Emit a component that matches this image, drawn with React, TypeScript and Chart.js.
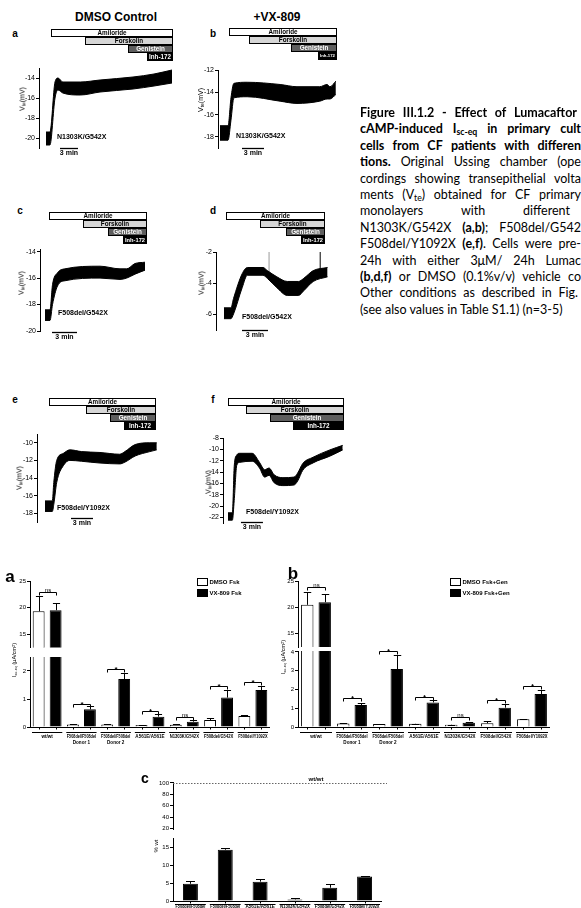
import React, { useEffect, useRef } from 'react';
import { Chart, registerables } from 'chart.js';

Chart.register(...registerables);

const FONT = '"Liberation Sans", Arial, Helvetica, sans-serif';
const CAPTION_FONT = 'Lato, "Open Sans", sans-serif';

// ================= Ussing chamber recordings =================
// time in minutes; upper / lower envelope of the V_te band in mV
const drugNames = ['Amiloride', 'Forskolin', 'Genistein', 'Inh-172'];
const scaleBarMinutes = 3;
const genotypes = ['N1303K/G542X', 'N1303K/G542X', 'F508del/G542X', 'F508del/G542X', 'F508del/Y1092X', 'F508del/Y1092X'];

const aTime = [0, 0.65, 1.5, 2.0, 2.8, 5.7, 9.0, 14.5, 18.0, 21.0];
const aUpper = [-19.4, -19.4, -14.4, -14.0, -14.4, -14.4, -14.2, -13.9, -13.6, -13.2];
const aLower = [-20.7, -20.7, -16.0, -15.2, -15.5, -15.7, -15.4, -15.1, -14.8, -14.5];
const aDrugStart = [0.83, 6.5, 13.67, 16.83];
const aDrugEnd = 21;
const aTicks = [-20, -18, -16, -14];

const bTime = [0, 1.1, 1.5, 1.9, 3.7, 8.2, 10.5, 13.6, 14.6, 15.0, 15.8];
const bUpper = [-17.0, -17.0, -14.5, -13.2, -13.1, -13.3, -13.5, -13.5, -13.3, -13.5, -13.0];
const bLower = [-18.3, -18.3, -16.5, -14.5, -14.4, -14.8, -15.0, -14.8, -14.6, -14.6, -14.2];
const bDrugStart = [1.23, 3.96, 9.69, 13.37];
const bDrugEnd = 15.82;
const bTicks = [-18, -16, -14, -12];

const cTime = [0, 0.6, 0.9, 1.5, 2.4, 6.6, 9.0, 9.8, 10.8, 12.0];
const cUpper = [-18.4, -18.4, -16.5, -15.6, -15.3, -15.1, -15.3, -15.3, -14.9, -14.8];
const cLower = [-19.2, -19.2, -18.0, -16.6, -16.2, -16.0, -16.1, -16.0, -15.7, -15.4];
const cDrugStart = [0.48, 4.56, 7.56, 9.36];
const cDrugEnd = 12.12;
const cTicks = [-20, -18, -16, -14];

const dTime = [0, 0.8, 1.1, 2.1, 2.7, 4.5, 5.0, 6.1, 7.3, 8.6, 9.2, 10.3, 11.95];
const dUpper = [-5.6, -5.6, -5.0, -3.4, -3.0, -3.0, -3.2, -3.6, -3.9, -3.9, -3.7, -3.2, -3.0];
const dLower = [-6.3, -6.3, -6.0, -4.3, -3.5, -3.5, -3.7, -4.3, -4.8, -4.8, -4.5, -3.9, -3.6];
const dSpikeTime = [5.2, 11.1];
const dSpikeBase = [-3.3, -3.1];
const dSpikeTop = [-2.0, -2.0];
const dDrugStart = [0.23, 4.15, 7.15, 8.88];
const dDrugEnd = 11.53;
const dTicks = [-6, -4, -2];

const eTime = [0, 1.0, 1.2, 1.6, 2.5, 3.4, 5.0, 7.5, 10.2, 10.9, 12.3, 14.3, 15.25];
const eUpper = [-16.6, -16.6, -14.5, -12.0, -11.2, -10.8, -11.0, -11.1, -11.3, -11.0, -10.2, -10.0, -10.0];
const eLower = [-17.8, -17.8, -17.0, -14.5, -12.6, -12.0, -12.1, -12.3, -12.4, -12.2, -11.5, -11.0, -10.8];
const eDrugStart = [0.55, 5.59, 8.87, 10.78];
const eDrugEnd = 15.0;
const eTicks = [-18, -16, -14, -12, -10];

const fTime = [0, 0.6, 0.85, 1.2, 1.6, 3.3, 4.3, 5.0, 5.6, 6.3, 7.5, 9.0, 9.5, 10.2, 11.6, 13.9, 15.65];
const fUpper = [-21.2, -21.2, -13.0, -11.0, -10.7, -10.7, -12.3, -13.6, -13.3, -14.5, -15.0, -14.9, -14.2, -12.5, -11.4, -10.1, -9.3];
const fLower = [-22.5, -22.5, -19.0, -12.8, -12.3, -12.1, -13.3, -14.9, -14.6, -15.9, -16.4, -16.3, -15.6, -13.7, -12.4, -11.2, -10.1];
const fDrugStart = [0, 2.46, 5.73, 8.87];
const fDrugEnd = 15.69;
const fTicks = [-22, -20, -18, -16, -14, -12, -10, -8];

// ================= Bar charts =================
const barGroups = [['wt/wt'], ['F508del/F508del', 'Donor 1'], ['F508del/F508del', 'Donor 2'], ['A561E/A561E'], ['N1303K/G542X'], ['F508del/G542X'], ['F508del/Y1092X']];

const fskLabels = ['DMSO Fsk', 'VX-809 Fsk'];
const fskDmso = [19.3, 0.09, 0.09, 0.07, 0.08, 0.25, 0.39];
const fskDmsoSem = [2.9, 0.01, 0.01, 0.01, 0.01, 0.07, 0.05];
const fskVx = [19.5, 0.63, 1.71, 0.37, 0.19, 1.05, 1.32];
const fskVxSem = [1.3, 0.12, 0.21, 0.08, 0.06, 0.27, 0.14];
const fskSig = ['ns', '*', '*', '*', 'ns', '*', '*'];
const fskSigY = [23.0, 0.82, 2.06, 0.58, 0.37, 1.46, 1.62];
const fskUpperTicks = [15, 20, 25];
const fskLowerTicks = [0, 1, 2];

const genLabels = ['DMSO Fsk+Gen', 'VX-809 Fsk+Gen'];
const genDmso = [20.45, 0.18, 0.16, 0.17, 0.12, 0.2, 0.41];
const genDmsoSem = [2.45, 0.02, 0.02, 0.01, 0.01, 0.12, 0.02];
const genVx = [20.95, 1.17, 3.09, 1.31, 0.22, 1.03, 1.76];
const genVxSem = [1.55, 0.12, 0.73, 0.12, 0.05, 0.19, 0.21];
const genSig = ['ns', '*', '*', '*', 'ns', '*', '*'];
const genSigY = [23.8, 1.52, 4.05, 1.61, 0.51, 1.43, 2.16];
const genUpperTicks = [15, 20, 25];
const genLowerTicks = [0, 1, 2, 3, 4];

const pctGroups = [['F508del/F508del', 'Donor 1'], ['F508del/F508del', 'Donor 2'], ['A561E/A561E'], ['N1303K/G542X'], ['F508del/G542X'], ['F508del/Y1092X']];
const pctWt = [4.8, 14.3, 5.4, 0.45, 3.7, 6.8];
const pctWtSem = [0.8, 0.4, 0.6, 0.25, 1.0, 0.2];
const wtReference = 100;
const pctUpperTicks = [20, 40, 60, 80, 100];
const pctLowerTicks = [0, 5, 10, 15];

// ================= Layout (page pixels) =================
const traceLayouts = [
  { box: { left: 0, top: 20, width: 185, height: 145 }, axisX: 39, plotTop: 68, plotBottom: 148, plotRight: 172, tMin: -1.17, tMax: 21, yMin: -21, yMax: -13, boxTop: 29, barT: 2.33, barY: 148, labelX: 57, labelY: 137, titleX: 22, titleY: 99 },
  { box: { left: 185, top: 20, width: 165, height: 145 }, axisX: 218, plotTop: 70, plotBottom: 148, plotRight: 336, tMin: -0.27, tMax: 15.82, yMin: -19, yMax: -12, boxTop: 28, barT: 3.0, barY: 148, labelX: 236, labelY: 136, titleX: 200, titleY: 100 },
  { box: { left: 0, top: 205, width: 185, height: 145 }, axisX: 40, plotTop: 249, plotBottom: 331, plotRight: 146, tMin: -0.6, tMax: 12.12, yMin: -20, yMax: -13.8, boxTop: 212, barT: 0.84, barY: 332, labelX: 58, labelY: 313, titleX: 21, titleY: 283 },
  { box: { left: 185, top: 205, width: 165, height: 145 }, axisX: 216, plotTop: 252, plotBottom: 330, plotRight: 328, tMin: -0.92, tMax: 12.0, yMin: -7.03, yMax: -2, boxTop: 212, barT: 2.08, barY: 330, labelX: 242, labelY: 317, titleX: 201, titleY: 283 },
  { box: { left: 0, top: 390, width: 185, height: 145 }, axisX: 37, plotTop: 434, plotBottom: 522, plotRight: 157, tMin: -1.09, tMax: 15.28, yMin: -19, yMax: -9, boxTop: 398, barT: 3.55, barY: 518, labelX: 57, labelY: 508, titleX: 19, titleY: 478 },
  { box: { left: 185, top: 390, width: 165, height: 145 }, axisX: 223, plotTop: 438, plotBottom: 523, plotRight: 343, tMin: -0.68, tMax: 15.69, yMin: -23, yMax: -8, boxTop: 398, barT: 1.77, barY: 522, labelX: 246, labelY: 512, titleX: 208, titleY: 482 },
];

const traceData = [
  { time: aTime, upper: aUpper, lower: aLower, drugStart: aDrugStart, drugEnd: aDrugEnd, ticks: aTicks, spikes: null as any },
  { time: bTime, upper: bUpper, lower: bLower, drugStart: bDrugStart, drugEnd: bDrugEnd, ticks: bTicks, spikes: null as any },
  { time: cTime, upper: cUpper, lower: cLower, drugStart: cDrugStart, drugEnd: cDrugEnd, ticks: cTicks, spikes: null as any },
  { time: dTime, upper: dUpper, lower: dLower, drugStart: dDrugStart, drugEnd: dDrugEnd, ticks: dTicks, spikes: { t: dSpikeTime, base: dSpikeBase, top: dSpikeTop } },
  { time: eTime, upper: eUpper, lower: eLower, drugStart: eDrugStart, drugEnd: eDrugEnd, ticks: eTicks, spikes: null as any },
  { time: fTime, upper: fUpper, lower: fLower, drugStart: fDrugStart, drugEnd: fDrugEnd, ticks: fTicks, spikes: null as any },
];

const boxFills = ['#ffffff', '#d6d6d6', '#5e5e5e', '#000000'];
const boxTexts = ['#000000', '#000000', '#ffffff', '#ffffff'];

function fitText(ctx: any, text: string, x: number, y: number, maxW: number) {
  const w = ctx.measureText(text).width;
  if (w <= maxW) {
    ctx.fillText(text, x, y);
    return;
  }
  ctx.save();
  ctx.translate(x, y);
  ctx.scale(maxW / w, 1);
  ctx.fillText(text, 0, 0);
  ctx.restore();
}

function yAxis(min: number, max: number, ticks: number[], width: number, fontSize: number) {
  return {
    type: 'linear',
    min,
    max,
    afterFit: (s: any) => { s.width = width; },
    afterBuildTicks: (s: any) => { s.ticks = ticks.map((v) => ({ value: v })); },
    ticks: { font: { size: fontSize, family: FONT }, color: '#000', padding: 1, autoSkip: false },
    grid: { display: true, drawOnChartArea: false, drawTicks: true, tickLength: 3, color: '#000', lineWidth: 1 },
    border: { display: true, color: '#000', width: 1 },
  };
}

function traceConfig(idx: number) {
  const L = traceLayouts[idx];
  const D = traceData[idx];
  const yW = 18;
  const ox = L.box.left, oy = L.box.top;
  const datasets: any[] = [
    { data: D.time.map((t, i) => ({ x: t, y: D.upper[i] })), borderColor: '#000', borderWidth: 1, pointRadius: 0, fill: false, cubicInterpolationMode: 'monotone' },
    { data: D.time.map((t, i) => ({ x: t, y: D.lower[i] })), borderColor: '#000', borderWidth: 1, pointRadius: 0, backgroundColor: '#000', fill: '-1', cubicInterpolationMode: 'monotone' },
  ];
  if (D.spikes) {
    D.spikes.t.forEach((t: number, i: number) => {
      datasets.push({ data: [{ x: t, y: D.spikes.base[i] }, { x: t, y: D.spikes.top[i] }], borderColor: i === 0 ? '#9a9a9a' : '#000', borderWidth: 1, pointRadius: 0, fill: false });
    });
  }
  const plugin = {
    id: 'traceDeco' + idx,
    afterDraw(chart: any) {
      const ctx = chart.ctx;
      const xs = chart.scales.x;
      ctx.save();
      D.drugStart.forEach((t0: number, i: number) => {
        const x1 = Math.round(xs.getPixelForValue(t0)) + 0.5;
        const x2 = Math.round(xs.getPixelForValue(D.drugEnd)) + 0.5;
        const y1 = L.boxTop - oy + i * 8 + 0.5;
        ctx.fillStyle = boxFills[i];
        ctx.fillRect(x1, y1, x2 - x1, 7);
        ctx.strokeStyle = '#000';
        ctx.lineWidth = 1;
        ctx.strokeRect(x1, y1, x2 - x1, 7);
        let fs = 6.3;
        ctx.font = `bold ${fs}px ${FONT}`;
        const w = ctx.measureText(drugNames[i]).width;
        if (w > x2 - x1 - 3) {
          fs = (fs * (x2 - x1 - 3)) / w;
          ctx.font = `bold ${fs}px ${FONT}`;
        }
        ctx.fillStyle = boxTexts[i];
        ctx.textAlign = 'center';
        ctx.textBaseline = 'middle';
        ctx.fillText(drugNames[i], (x1 + x2) / 2, y1 + 3.8);
      });
      const bx1 = xs.getPixelForValue(L.barT);
      const bx2 = xs.getPixelForValue(L.barT + scaleBarMinutes);
      ctx.strokeStyle = '#000';
      ctx.lineWidth = 1.3;
      ctx.beginPath();
      ctx.moveTo(bx1, L.barY - oy + 0.5);
      ctx.lineTo(bx2, L.barY - oy + 0.5);
      ctx.stroke();
      ctx.fillStyle = '#000';
      ctx.font = `bold 7px ${FONT}`;
      ctx.textAlign = 'center';
      ctx.textBaseline = 'top';
      ctx.fillText(scaleBarMinutes + ' min', (bx1 + bx2) / 2, L.barY - oy + 2);
      ctx.textAlign = 'left';
      ctx.textBaseline = 'middle';
      ctx.font = `bold 7px ${FONT}`;
      ctx.fillText(genotypes[idx], L.labelX - ox, L.labelY - oy);
      ctx.restore();
    },
  };
  return {
    type: 'line',
    data: { datasets },
    options: {
      animation: false,
      responsive: false,
      events: [],
      layout: { padding: { left: L.axisX - ox - yW, right: ox + L.box.width - L.plotRight, top: L.plotTop - oy, bottom: oy + L.box.height - L.plotBottom } },
      plugins: { legend: { display: false }, tooltip: { enabled: false } },
      scales: {
        x: { type: 'linear', display: false, min: L.tMin, max: L.tMax },
        y: yAxis(L.yMin, L.yMax, D.ticks, yW, 7),
      },
    },
    plugins: [plugin],
  };
}

type BarSpec = {
  box: { left: number; top: number; width: number; height: number };
  plotLeft: number; plotRight: number; plotTop: number; plotBottom: number;
  yMin: number; yMax: number; ticks: number[]; yW: number;
  groups: string[][];
  series: { label: string; data: number[]; sem: number[]; fill: string }[];
  catPct: number; barPct: number;
  sig?: string[]; sigY?: number[];
  legend?: { x: number; y: number };
  groupLabels?: { underline: number; text: number };
  refLine?: { value: number; label: string; labelX: number };
};

function barConfig(S: BarSpec) {
  const ox = S.box.left, oy = S.box.top;
  const plugin = {
    id: 'barDeco',
    afterDatasetsDraw(chart: any) {
      const { ctx, chartArea: ca } = chart;
      const x = chart.scales.x, y = chart.scales.y;
      ctx.save();
      ctx.strokeStyle = '#000';
      ctx.fillStyle = '#000';
      ctx.lineWidth = 1;
      // error bars
      ctx.save();
      ctx.beginPath();
      ctx.rect(ca.left, ca.top - 0.5, ca.right - ca.left, ca.bottom - ca.top + 0.5);
      ctx.clip();
      S.series.forEach((s, di) => {
        chart.getDatasetMeta(di).data.forEach((el: any, i: number) => {
          const y0 = y.getPixelForValue(s.data[i]);
          const y1 = Math.round(y.getPixelForValue(s.data[i] + s.sem[i])) + 0.5;
          const cx = Math.round(el.x) + 0.5;
          const hw = Math.max(2.5, el.width * 0.3);
          ctx.beginPath();
          ctx.moveTo(cx, y0);
          ctx.lineTo(cx, y1);
          ctx.moveTo(cx - hw, y1);
          ctx.lineTo(cx + hw, y1);
          ctx.stroke();
        });
      });
      ctx.restore();
      // significance brackets
      if (S.sig && S.sigY) {
        const m0 = chart.getDatasetMeta(0).data, m1 = chart.getDatasetMeta(1).data;
        S.sig.forEach((lab, i) => {
          const v = S.sigY![i];
          if (v < S.yMin || v > S.yMax + (S.yMax - S.yMin) * 0.06) return;
          const x1 = Math.round(m0[i].x) + 0.5, x2 = Math.round(m1[i].x) + 0.5;
          const yy = Math.round(y.getPixelForValue(v)) + 0.5;
          ctx.beginPath();
          ctx.moveTo(x1, yy + 3);
          ctx.lineTo(x1, yy);
          ctx.lineTo(x2, yy);
          ctx.lineTo(x2, yy + 3);
          ctx.stroke();
          ctx.textAlign = 'center';
          ctx.textBaseline = 'alphabetic';
          if (lab === '*') {
            ctx.font = `bold 8px ${FONT}`;
            ctx.fillText(lab, (x1 + x2) / 2, yy + 2.5);
          } else {
            ctx.font = `6px ${FONT}`;
            ctx.fillText(lab, (x1 + x2) / 2, yy - 1);
          }
        });
      }
      // legend
      if (S.legend) {
        S.series.forEach((s, di) => {
          const lx = S.legend!.x - ox + 0.5, top = S.legend!.y - oy + di * 11 + 0.5;
          ctx.fillStyle = s.fill;
          ctx.fillRect(lx, top, 10, 7);
          ctx.strokeStyle = '#000';
          ctx.strokeRect(lx, top, 10, 7);
          ctx.fillStyle = '#000';
          ctx.font = `bold 6px ${FONT}`;
          ctx.textAlign = 'left';
          ctx.textBaseline = 'middle';
          ctx.fillText(s.label, lx + 12, top + 4);
        });
      }
      // x axis baseline, ticks and group labels
      if (S.groupLabels) {
        ctx.strokeStyle = '#000';
        ctx.beginPath();
        ctx.moveTo(ca.left, ca.bottom + 0.5);
        ctx.lineTo(ca.right, ca.bottom + 0.5);
        ctx.stroke();
        S.series.forEach((_s, di) => {
          chart.getDatasetMeta(di).data.forEach((el: any) => {
            const cx = Math.round(el.x) + 0.5;
            ctx.beginPath();
            ctx.moveTo(cx, ca.bottom);
            ctx.lineTo(cx, ca.bottom + 2.5);
            ctx.stroke();
          });
        });
        const n = S.groups.length;
        const cw = (ca.right - ca.left) / n;
        ctx.font = `bold 4.6px ${FONT}`;
        ctx.textAlign = 'center';
        ctx.textBaseline = 'middle';
        ctx.fillStyle = '#000';
        S.groups.forEach((lines, i) => {
          const c = x.getPixelForValue(i);
          const yl = Math.round(ca.bottom + S.groupLabels!.underline) + 0.5;
          ctx.beginPath();
          ctx.moveTo(c - cw / 2 + 2, yl);
          ctx.lineTo(c + cw / 2 - 2, yl);
          ctx.stroke();
          lines.forEach((t, k) => fitText(ctx, t, c, ca.bottom + S.groupLabels!.text + k * 6, cw - 5));
        });
      }
      // reference line
      if (S.refLine) {
        const yy = Math.round(y.getPixelForValue(S.refLine.value)) + 0.5;
        ctx.strokeStyle = '#666';
        ctx.setLineDash([1.5, 1.5]);
        ctx.beginPath();
        ctx.moveTo(ca.left, yy);
        ctx.lineTo(ca.right + 5, yy);
        ctx.stroke();
        ctx.setLineDash([]);
        ctx.fillStyle = '#000';
        ctx.font = `bold 6px ${FONT}`;
        ctx.textAlign = 'center';
        ctx.textBaseline = 'middle';
        ctx.fillText(S.refLine.label, S.refLine.labelX - ox, yy - 4.5);
      }
      ctx.restore();
    },
  };
  return {
    type: 'bar',
    data: {
      labels: S.groups,
      datasets: S.series.map((s) => ({
        label: s.label,
        data: s.data,
        backgroundColor: s.fill,
        borderColor: '#000',
        borderWidth: 1,
        categoryPercentage: S.catPct,
        barPercentage: S.barPct,
      })),
    },
    options: {
      animation: false,
      responsive: false,
      events: [],
      layout: { padding: { left: S.plotLeft - ox - S.yW, right: ox + S.box.width - S.plotRight, top: S.plotTop - oy, bottom: oy + S.box.height - S.plotBottom } },
      plugins: { legend: { display: false }, tooltip: { enabled: false } },
      scales: {
        x: { type: 'category', display: false, offset: true },
        y: yAxis(S.yMin, S.yMax, S.ticks, S.yW, 6),
      },
    },
    plugins: [plugin],
  };
}

const fskSeries = [
  { label: fskLabels[0], data: fskDmso, sem: fskDmsoSem, fill: '#ffffff' },
  { label: fskLabels[1], data: fskVx, sem: fskVxSem, fill: '#000000' },
];
const genSeries = [
  { label: genLabels[0], data: genDmso, sem: genDmsoSem, fill: '#ffffff' },
  { label: genLabels[1], data: genVx, sem: genVxSem, fill: '#000000' },
];
const pctSeries = [{ label: '% wt', data: pctWt, sem: pctWtSem, fill: '#000000' }];

const barSpecs: BarSpec[] = [
  { box: { left: 0, top: 572, width: 280, height: 80 }, plotLeft: 30, plotRight: 270, plotTop: 581, plotBottom: 651, yMin: 12.5, yMax: 25, ticks: fskUpperTicks, yW: 16, groups: barGroups, series: fskSeries, catPct: 0.99, barPct: 0.7, sig: fskSig, sigY: fskSigY, legend: { x: 197, y: 578 } },
  { box: { left: 0, top: 651, width: 280, height: 101 }, plotLeft: 30, plotRight: 270, plotTop: 657, plotBottom: 727, yMin: 0, yMax: 2.5, ticks: fskLowerTicks, yW: 16, groups: barGroups, series: fskSeries, catPct: 0.99, barPct: 0.7, sig: fskSig, sigY: fskSigY, groupLabels: { underline: 5, text: 9.5 } },
  { box: { left: 280, top: 572, width: 290, height: 80 }, plotLeft: 298, plotRight: 550, plotTop: 581, plotBottom: 647, yMin: 12.4, yMax: 25, ticks: genUpperTicks, yW: 14, groups: barGroups, series: genSeries, catPct: 0.97, barPct: 0.71, sig: genSig, sigY: genSigY, legend: { x: 450, y: 578 } },
  { box: { left: 280, top: 645, width: 290, height: 107 }, plotLeft: 298, plotRight: 550, plotTop: 651, plotBottom: 727, yMin: 0, yMax: 4.05, ticks: genLowerTicks, yW: 14, groups: barGroups, series: genSeries, catPct: 0.97, barPct: 0.71, sig: genSig, sigY: genSigY, groupLabels: { underline: 5, text: 9.5 } },
  { box: { left: 140, top: 770, width: 250, height: 64 }, plotLeft: 173, plotRight: 382, plotTop: 782, plotBottom: 832, yMin: 18.3, yMax: 101.7, ticks: pctUpperTicks, yW: 16, groups: pctGroups, series: pctSeries, catPct: 1, barPct: 0.43, refLine: { value: wtReference, label: 'wt/wt', labelX: 316 } },
  { box: { left: 140, top: 834, width: 250, height: 74 }, plotLeft: 173, plotRight: 382, plotTop: 837, plotBottom: 901, yMin: 0, yMax: 17.4, ticks: pctLowerTicks, yW: 16, groups: pctGroups, series: pctSeries, catPct: 1, barPct: 0.43, groupLabels: { underline: 2.5, text: 6 } },
];

function ChartCanvas({ box, make }: { box: { left: number; top: number; width: number; height: number }; make: () => any }) {
  const ref = useRef<HTMLCanvasElement>(null);
  useEffect(() => {
    const chart = new Chart(ref.current as HTMLCanvasElement, make());
    return () => chart.destroy();
  }, []);
  return (
    <canvas
      ref={ref}
      width={box.width}
      height={box.height}
      style={{ position: 'absolute', left: box.left, top: box.top, width: box.width, height: box.height }}
    />
  );
}

function Txt({ x, y, size, bold, children, rotate, family }: any) {
  return (
    <div
      style={{
        position: 'absolute', left: x, top: y,
        transform: rotate ? 'translate(-50%,-50%) rotate(-90deg)' : 'translate(-50%,-50%)',
        fontSize: size, fontWeight: bold ? 700 : 400, fontFamily: family || FONT,
        whiteSpace: 'nowrap', lineHeight: 1, color: '#000',
      }}
    >
      {children}
    </div>
  );
}

const subStyle = { fontSize: '0.7em', verticalAlign: '-0.25em', lineHeight: 0 } as any;
const supStyle = { fontSize: '0.7em', verticalAlign: '0.45em', lineHeight: 0 } as any;

const captionLines: { words: any[]; bold?: boolean; width?: number }[] = [
  { words: ['Figure', 'III.1.2', '-', 'Effect', 'of', 'Lumacaftor'], bold: true, width: 217 },
  { words: ['cAMP-induced', <span>I<span style={subStyle}>sc-eq</span></span>, 'in', 'primary', 'cult'], bold: true },
  { words: ['cells', 'from', 'CF', 'patients', 'with', 'differen'], bold: true },
  { words: [<b>tions.</b>, 'Original', 'Ussing', 'chamber', '(ope'] },
  { words: ['cordings', 'showing', 'transepithelial', 'volta'] },
  { words: ['ments', <span>(V<span style={subStyle}>te</span>)</span>, 'obtained', 'for', 'CF', 'primary'] },
  { words: ['monolayers', 'with', 'different'], width: 210 },
  { words: ['N1303K/G542X', <span><b>(a,b)</b>;</span>, 'F508del/G542'] },
  { words: ['F508del/Y1092X', <span><b>(e,f)</b>.</span>, 'Cells', 'were', 'pre-'] },
  { words: ['24h', 'with', 'either', '3μM/', '24h', 'Lumac'] },
  { words: [<b>(b,d,f)</b>, 'or', 'DMSO', '(0.1%v/v)', 'vehicle', 'co'] },
  { words: ['Other', 'conditions', 'as', 'described', 'in', 'Fig.'], width: 218 },
  { words: ['(see also values in Table S1.1) (n=3-5)'], width: 0 },
];

export default function App() {
  const panelLetters = ['a', 'b', 'c', 'd', 'e', 'f'];
  const letterPos = [[15, 34], [213, 34], [20, 211], [213, 211], [15, 400], [213, 400]];
  return (
    <div style={{ position: 'absolute', left: 0, top: 0, width: 581, height: 908, overflow: 'hidden', background: '#fff' }}>
      <Txt x={116} y={17} size={12} bold>DMSO Control</Txt>
      <Txt x={277} y={17} size={12} bold>+VX-809</Txt>
      {panelLetters.map((l, i) => (
        <Txt key={l} x={letterPos[i][0]} y={letterPos[i][1]} size={10} bold>{l}</Txt>
      ))}
      {traceLayouts.map((L, i) => (
        <React.Fragment key={i}>
          <ChartCanvas box={L.box} make={() => traceConfig(i)} />
          <Txt x={L.titleX} y={L.titleY} size={7} rotate>
            V<span style={subStyle}>te</span>(mV)
          </Txt>
        </React.Fragment>
      ))}

      <div style={{ position: 'absolute', left: 360, top: 0, width: 221, height: 330, overflow: 'hidden' }}>
        {captionLines.map((ln, i) => (
          <div
            key={i}
            style={{
              position: 'absolute', left: 0, top: 113 + i * 16.4 - 8, height: 16,
              display: 'flex', justifyContent: ln.width === 0 ? 'flex-start' : 'space-between',
              gap: 3, width: ln.width === 0 ? 'auto' : (ln.width || 221),
              whiteSpace: 'nowrap', fontWeight: ln.bold ? 700 : 400,
              fontFamily: CAPTION_FONT, fontSize: 12.5, lineHeight: '16px', color: '#000',
            }}
          >
            {ln.words.map((w, j) => <span key={j}>{w}</span>)}
          </div>
        ))}
      </div>

      {barSpecs.map((S, i) => (
        <ChartCanvas key={'bar' + i} box={S.box} make={() => barConfig(S)} />
      ))}
      <Txt x={10} y={576} size={17} bold>a</Txt>
      <Txt x={293} y={573} size={17} bold>b</Txt>
      <Txt x={145} y={778} size={14} bold>c</Txt>
      <Txt x={15} y={660} size={5.5} rotate>
        I<span style={subStyle}>sc-eq</span> (μA/cm<span style={supStyle}>2</span>)
      </Txt>
      <Txt x={284} y={657} size={5.5} rotate>
        I<span style={subStyle}>sc-eq</span> (μA/cm<span style={supStyle}>2</span>)
      </Txt>
      <Txt x={156} y={846} size={6} rotate>% wt</Txt>
    </div>
  );
}
